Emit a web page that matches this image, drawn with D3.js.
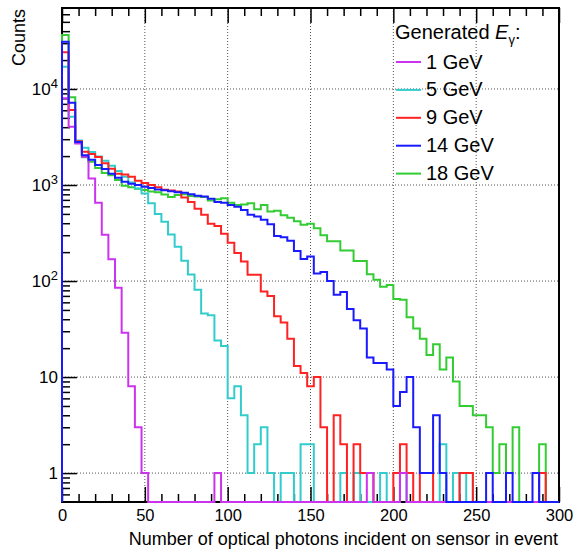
<!DOCTYPE html>
<html>
<head>
<meta charset="utf-8">
<script src="https://cdn.jsdelivr.net/npm/d3@7"></script>
<style>
  body { margin: 0; background: #fff; }
  svg { display: block; font-family: "Liberation Sans", Arial, sans-serif; }
</style>
</head>
<body>
<div id="my_dataviz"></div>
<script>
// histogram binning: 75 bins of 4 photons from 0 to 300
const binWidth = 4;
const binLow = d3.range(0, 300, binWidth);

// counts per bin (0 = empty bin)
const counts1GeV = [8000, 4050, 2700, 1970, 1170, 655, 303, 169, 85, 29,
  8, 3, 1, 0, 0, 0, 0, 0, 0, 0,
  0, 0, 0, 1, 0, 0, 0, 0, 0, 0,
  0, 0, 0, 0, 0, 0, 0, 0, 0, 0,
  0, 0, 0, 0, 0, 0, 1, 0, 0, 0,
  0, 1, 0, 0, 0, 0, 0, 0, 0, 0,
  0, 0, 0, 0, 0, 0, 0, 0, 0, 0,
  0, 0, 0, 0, 0];

const counts5GeV = [17000, 5150, 2900, 2450, 2200, 1980, 1790, 1590, 1400, 1220,
  1060, 920, 815, 645, 500, 415, 306, 228, 163, 117,
  81, 46, 44, 24, 21, 6, 8, 4, 1, 2,
  3, 1, 0, 1, 1, 0, 2, 2, 0, 0,
  0, 0, 1, 0, 1, 0, 0, 0, 1, 0,
  0, 1, 0, 0, 0, 0, 0, 2, 0, 1,
  0, 1, 0, 0, 0, 0, 0, 0, 0, 0,
  0, 0, 0, 0, 0];

const counts9GeV = [24100, 6040, 2850, 2220, 2100, 1960, 1680, 1480, 1310, 1290,
  1220, 1110, 1050, 1000, 950, 890, 875, 855, 740, 665,
  565, 490, 395, 375, 310, 250, 196, 160, 116, 116,
  78, 70, 43, 37, 25, 13, 11, 8, 10, 3,
  0, 4, 2, 0, 2, 1, 1, 0, 0, 0,
  1, 2, 1, 0, 1, 1, 0, 0, 0, 0,
  1, 1, 0, 0, 0, 0, 0, 0, 0, 0,
  0, 0, 1, 0, 0];

const counts14GeV = [31000, 7200, 2800, 2040, 1830, 1620, 1470, 1310, 1190, 1080,
  1030, 1000, 960, 930, 900, 880, 860, 840, 830, 800,
  775, 760, 720, 665, 655, 620, 595, 550, 490, 470,
  435, 390, 295, 285, 262, 205, 170, 180, 120, 124,
  100, 72, 77, 51, 39, 32, 16, 14, 14, 12,
  5, 7, 10, 3, 1, 1, 4, 1, 0, 0,
  0, 0, 0, 0, 1, 0, 0, 1, 0, 0,
  0, 1, 0, 0, 0];

const counts18GeV = [36500, 8190, 2750, 1950, 1750, 1500, 1330, 1260, 1130, 980,
  945, 915, 885, 855, 840, 795, 750, 785, 800, 770,
  760, 750, 690, 710, 730, 655, 620, 625, 645, 560,
  620, 530, 540, 485, 455, 420, 385, 395, 355, 300,
  260, 260, 208, 208, 162, 162, 118, 103, 87, 91,
  65, 64, 42, 32, 25, 17, 22, 12, 16, 9,
  5, 5, 4, 4, 3, 1, 2, 1, 3, 0,
  0, 0, 2, 0, 0];

const seriesLabels = ["1 GeV", "5 GeV", "9 GeV", "14 GeV", "18 GeV"];
const seriesColors = ["#cc33ee", "#33cccc", "#ff2222", "#1a1aff", "#33cc33"];
const seriesCounts = [counts1GeV, counts5GeV, counts9GeV, counts14GeV, counts18GeV];
// drawing order, last one ends up on top
const drawOrder = [4, 1, 2, 0, 3];

const xTicks = [0, 50, 100, 150, 200, 250, 300];
const yTicks = [1, 10, 100, 1000, 10000];
const yTickLabels = [["1", ""], ["10", ""], ["10", "2"], ["10", "3"], ["10", "4"]];

// set the dimensions and margins of the graph
const margin = {top: 8, right: 14, bottom: 49, left: 62},
    width = 573 - margin.left - margin.right,
    height = 551 - margin.top - margin.bottom;

const svg = d3.select("#my_dataviz")
  .append("svg")
    .attr("width", width + margin.left + margin.right)
    .attr("height", height + margin.top + margin.bottom)
  .append("g")
    .attr("transform", `translate(${margin.left},${margin.top})`);

const x = d3.scaleLinear()
  .domain([0, 300])
  .range([0, width]);

const y = d3.scaleLog()
  .domain([0.5, 69700])
  .range([height, 0]);

// minor tick positions
const xMinor = d3.range(0, 301, 10).filter(v => v % 50 != 0);
const yMinor = [];
[0.1, 1, 10, 100, 1000, 10000].forEach(dec => {
  for (let k = 2; k <= 9; k++) {
    const v = dec * k;
    if (v > 0.5 && v < 69700) yMinor.push(v);
  }
});

// dotted grid
svg.append("g")
  .selectAll("line")
  .data(xTicks.slice(1, -1))
  .join("line")
    .attr("x1", d => x(d)).attr("x2", d => x(d))
    .attr("y1", 0).attr("y2", height)
    .attr("stroke", "#555")
    .attr("stroke-dasharray", "1,2");

svg.append("g")
  .selectAll("line")
  .data(yTicks)
  .join("line")
    .attr("x1", 0).attr("x2", width)
    .attr("y1", d => y(d)).attr("y2", d => y(d))
    .attr("stroke", "#555")
    .attr("stroke-dasharray", "1,2");

// frame
svg.append("rect")
  .attr("width", width)
  .attr("height", height)
  .attr("fill", "none")
  .attr("stroke", "black")
  .attr("stroke-width", 2);

// x axis, ticks pointing into the frame
const xAxis = svg.append("g")
  .attr("transform", `translate(0, ${height})`)
  .call(d3.axisBottom(x).tickValues(xTicks).tickSize(-15).tickPadding(7).tickSizeOuter(0))
  .style("font-size", "16.5px")
  .attr("font-family", null);
xAxis.select(".domain").remove();

svg.append("g")
  .attr("transform", `translate(0, ${height})`)
  .call(d3.axisBottom(x).tickValues(xMinor).tickSize(-8).tickFormat(""))
  .select(".domain").remove();

// top axis ticks
svg.append("g")
  .call(d3.axisTop(x).tickValues(xTicks).tickSize(-15).tickFormat(""))
  .select(".domain").remove();
svg.append("g")
  .call(d3.axisTop(x).tickValues(xMinor).tickSize(-8).tickFormat(""))
  .select(".domain").remove();

// y axis
const yAxis = svg.append("g")
  .call(d3.axisLeft(y).tickValues(yTicks).tickSize(-15).tickPadding(4).tickFormat(""))
  .style("font-size", "17px")
  .attr("font-family", null);
yAxis.select(".domain").remove();
yAxis.selectAll(".tick text").each(function(d, i) {
  const t = d3.select(this);
  t.append("tspan").text(yTickLabels[i][0]);
  if (yTickLabels[i][1]) {
    t.append("tspan")
      .attr("dy", "-0.5em")
      .style("font-size", "13px")
      .text(yTickLabels[i][1]);
  }
});

svg.append("g")
  .call(d3.axisLeft(y).tickValues(yMinor).tickSize(-8).tickFormat(""))
  .select(".domain").remove();

svg.selectAll(".tick line").attr("stroke-width", 1.5);

// axis titles
svg.append("text")
  .attr("x", width - 1)
  .attr("y", height + 43)
  .attr("text-anchor", "end")
  .style("font-size", "18px")
  .text("Number of optical photons incident on sensor in event");

svg.append("text")
  .attr("transform", `translate(${-margin.left + 25}, 1) rotate(-90)`)
  .attr("text-anchor", "end")
  .style("font-size", "18px")
  .text("Counts");

// histograms drawn as step outlines
const stepLine = d3.line()
  .x(d => x(d[0]))
  .y(d => d[1] > 0 ? y(d[1]) : height)
  .curve(d3.curveStepAfter);

drawOrder.forEach(i => {
  const counts = seriesCounts[i];
  const pts = [[0, 0]]
    .concat(binLow.map((b, j) => [b, counts[j]]))
    .concat([[300, counts[counts.length - 1]]]);
  svg.append("path")
    .datum(pts)
    .attr("fill", "none")
    .attr("stroke", seriesColors[i])
    .attr("stroke-width", 2)
    .attr("d", stepLine);
});

// legend
const legX = 396 - margin.left;
const leg = svg.append("g");
const title = leg.append("text")
  .attr("x", legX - 1)
  .attr("y", 39 - margin.top)
  .style("font-size", "20px");
title.append("tspan").text("Generated ");
title.append("tspan").style("font-style", "italic").text("E");
title.append("tspan").attr("dy", 5).style("font-size", "13px").text("\u03b3");
title.append("tspan").attr("dy", -5).text(":");

leg.selectAll("line")
  .data(seriesLabels)
  .join("line")
    .attr("x1", legX).attr("x2", legX + 25)
    .attr("y1", (d, i) => 62 - margin.top + i * 27.9)
    .attr("y2", (d, i) => 62 - margin.top + i * 27.9)
    .attr("stroke", (d, i) => seriesColors[i])
    .attr("stroke-width", 2);

leg.selectAll("text.lab")
  .data(seriesLabels)
  .join("text")
    .attr("class", "lab")
    .attr("x", legX + 30)
    .attr("y", (d, i) => 68.5 - margin.top + i * 27.9)
    .style("font-size", "20px")
    .text(d => d);
</script>
</body>
</html>
